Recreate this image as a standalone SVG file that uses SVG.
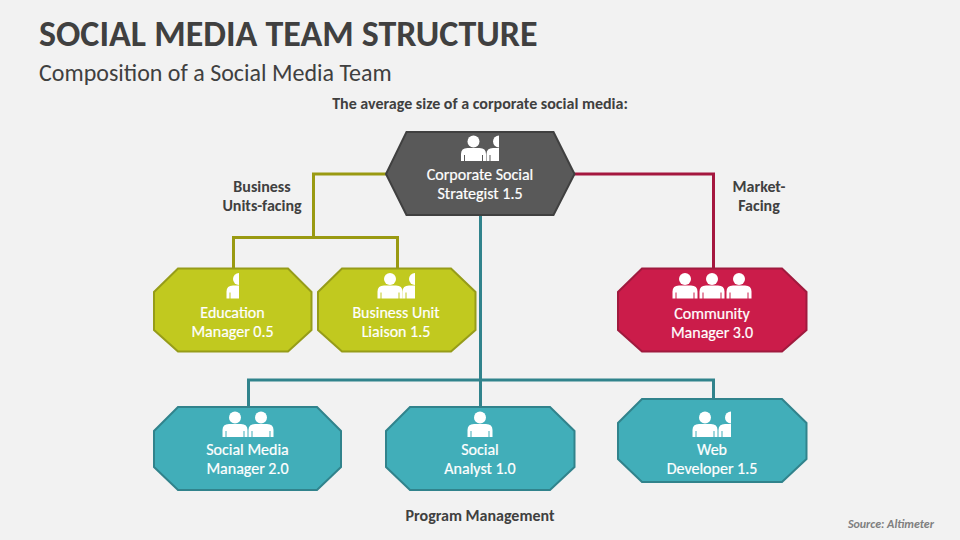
<svg xmlns="http://www.w3.org/2000/svg" width="960" height="540" viewBox="0 0 960 540">
<style>
text{font-family:"Carlito","Lato","Liberation Sans",sans-serif}
.lbl{font-size:16px;fill:#fff;text-anchor:middle;stroke:#fff;stroke-width:.2}
.cap{font-size:16px;font-weight:700;fill:#404040;text-anchor:middle}
.conn{fill:none;stroke-width:3}
.n{stroke-width:2}
.ic{fill:#fff}
</style>
<defs>
<g id="p"><circle cx="0" cy="-19.500" r="6"/><path fill-rule="evenodd" d="M-12.500 0V-7Q-12.500 -13 -6 -13H6Q12.500 -13 12.500 -7V0H9.500V-6H8.500V0H-8.500V-6H-9.500V0Z"/></g>
<g id="h"><path d="M0 -25.500A6 6 0 0 0 0 -13.500Z"/><path d="M-12.500 0V-7Q-12.500 -13 -6 -13H0V0H-8.500V-6H-9.500V0Z"/></g>
</defs>
<rect width="960" height="540" fill="#f2f2f2"/>
<text x="39" y="46" font-size="36" font-weight="700" fill="#404040">SOCIAL MEDIA TEAM STRUCTURE</text>
<text x="39" y="81" font-size="24" fill="#404040">Composition of a Social Media Team</text>
<text class="cap" x="480" y="109">The average size of a corporate social media:</text>
<text class="cap" x="262" y="192">Business</text>
<text class="cap" x="262" y="211">Units-facing</text>
<text class="cap" x="759" y="192">Market-</text>
<text class="cap" x="759" y="211">Facing</text>
<text class="cap" x="480" y="521">Program Management</text>
<text x="934" y="528" font-size="12" font-weight="700" font-style="italic" fill="#7f7f7f" text-anchor="end">Source: Altimeter</text>
<g id="connectors">
<path class="conn" stroke="#9a9a12" d="M386 174H313.500V237.500M233.500 268V237.500H397.500V268"/>
<path class="conn" stroke="#a5173f" d="M574 174H713.500V268"/>
<path class="conn" stroke="#31838c" d="M480.500 215V407M248.500 407V380H713.500V399"/>
</g>
<g id="n-strategist">
<polygon class="n" fill="#595959" stroke="#404040" points="406.500,132 553.500,132 574.500,174 553.500,215 406.500,215 386,174"/>
<g class="ic"><use href="#p" x="473.500" y="161"/><use href="#h" x="499" y="161"/></g>
<text class="lbl" x="480" y="180">Corporate Social</text><text class="lbl" x="480" y="199">Strategist 1.5</text>
</g>
<g id="n-education">
<polygon class="n" fill="#c1c91f" stroke="#969c19" points="178,268.500 288,268.500 311.500,292 311.500,330 288,351.500 178,351.500 154,330 154,292"/>
<g class="ic"><use href="#h" x="239" y="298.500"/></g>
<text class="lbl" x="232.500" y="318">Education</text><text class="lbl" x="232.500" y="337">Manager 0.5</text>
</g>
<g id="n-liaison">
<polygon class="n" fill="#c1c91f" stroke="#969c19" points="342,268.500 451,268.500 475.500,292 475.500,330 451,351.500 342,351.500 318,330 318,292"/>
<g class="ic"><use href="#p" x="390" y="298.500"/><use href="#h" x="415" y="298.500"/></g>
<text class="lbl" x="396" y="318">Business Unit</text><text class="lbl" x="396" y="337">Liaison 1.5</text>
</g>
<g id="n-community">
<polygon class="n" fill="#cb1c4a" stroke="#a01a3e" points="642,268.500 782,268.500 806.500,292 806.500,330 782,351.500 642,351.500 618,330 618,292"/>
<g class="ic"><use href="#p" x="685" y="298.500"/><use href="#p" x="712" y="298.500"/><use href="#p" x="739" y="298.500"/></g>
<text class="lbl" x="712" y="319">Community</text><text class="lbl" x="712" y="338">Manager 3.0</text>
</g>
<g id="n-smm">
<polygon class="n" fill="#41aeb9" stroke="#31838c" points="178,407 317,407 341,431 341,467 317,490 178,490 154,467 154,431"/>
<g class="ic"><use href="#p" x="235" y="437"/><use href="#p" x="261" y="437"/></g>
<text class="lbl" x="247.500" y="455">Social Media</text><text class="lbl" x="247.500" y="474">Manager 2.0</text>
</g>
<g id="n-analyst">
<polygon class="n" fill="#41aeb9" stroke="#31838c" points="410,407 550,407 574.500,431 574.500,467 550,490 410,490 386,467 386,431"/>
<g class="ic"><use href="#p" x="480" y="437"/></g>
<text class="lbl" x="480" y="455">Social</text><text class="lbl" x="480" y="474">Analyst 1.0</text>
</g>
<g id="n-web">
<polygon class="n" fill="#41aeb9" stroke="#31838c" points="642,399 782,399 806.500,423 806.500,459 782,482 642,482 618,459 618,423"/>
<g class="ic"><use href="#p" x="705" y="437"/><use href="#h" x="731" y="437"/></g>
<text class="lbl" x="712" y="455">Web</text><text class="lbl" x="712" y="474">Developer 1.5</text>
</g>
</svg>
